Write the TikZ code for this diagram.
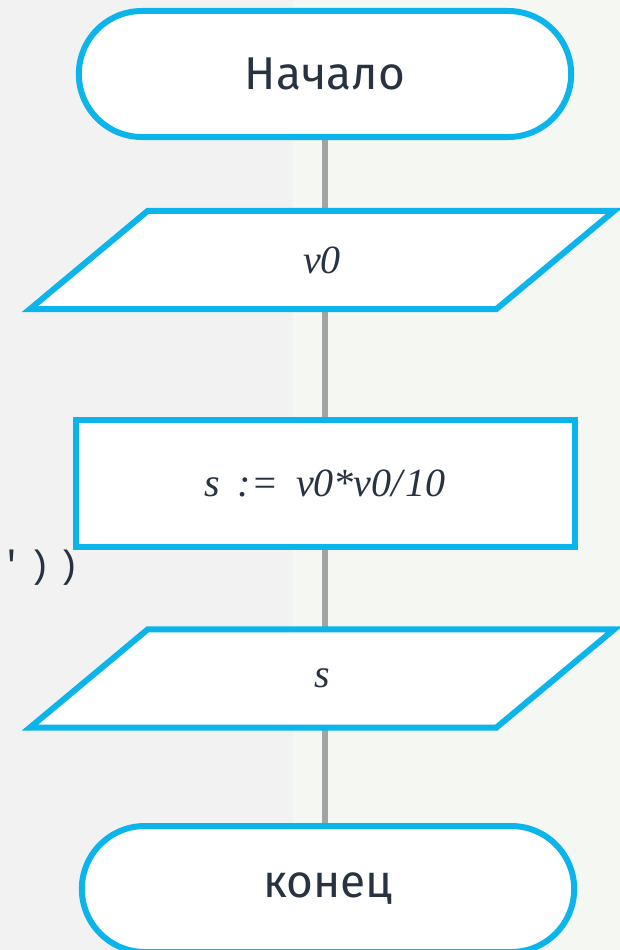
\documentclass[tikz,border=0pt]{standalone}
\usepackage{fontspec}
\usetikzlibrary{shapes.misc,backgrounds}
\newfontfamily\labelfont{Fira Sans}
\newfontfamily\serifit[WordSpace=1.8]{Liberation Serif}
\newfontfamily\codefont[LetterSpace=15]{Liberation Mono}
\definecolor{flowblue}{HTML}{0BB5EB}
\definecolor{linegray}{HTML}{A3A3A3}
\definecolor{textdark}{HTML}{283241}
\definecolor{bgleft}{HTML}{F2F2F2}
\definecolor{bgright}{HTML}{F5F7F3}
\begin{document}
\begin{tikzpicture}[x=1pt, y=-1pt]
    % рамка картинки
    \useasboundingbox (0,0) rectangle (620,950);
    % стили блоков
    \tikzstyle{terminal}=[rounded rectangle, draw=flowblue, line width=6pt, fill=white, minimum width=499pt, minimum height=126pt, text=textdark, font=\labelfont\fontsize{46}{50}\selectfont]
    \tikzstyle{io}=[rectangle, minimum width=466pt, minimum height=98pt, text=textdark, font=\serifit\itshape\fontsize{40}{44}\selectfont]
    \tikzstyle{iobox}=[draw=flowblue, line width=6pt, fill=white, line join=miter]
    \tikzstyle{process}=[rectangle, draw=flowblue, line width=6pt, fill=white, minimum width=499pt, minimum height=127pt, text=textdark, font=\serifit\itshape\fontsize{40}{44}\selectfont]
    \tikzstyle{flow}=[linegray, line width=6pt]

    % блоки схемы
    \node[terminal] (start) at (325,74) {Начало};
    \node[io] (input) at (322,260) {v0};
    \node[process] (calc) at (325,483.5) {s := v0*v0/\kern3pt10};
    \node[io] (output) at (322,678.5) {s};
    \node[terminal] (stop) at (328,889) {конец};

    % обрывок кода слева
    \node[anchor=base west, text=textdark, font=\codefont\fontsize{38}{40}\selectfont, inner sep=0pt] (code) at (0,577) {'))};

    \begin{scope}[on background layer]
        % фон
        \fill[bgleft] (0,0) rectangle (293,950);
        \fill[bgright] (293,0) rectangle (620,950);
        % линии потока
        \draw[flow] (start.south) -- (start.south |- input.north);
        \draw[flow] (start.south |- input.south) -- (start.south |- calc.north);
        \draw[flow] (start.south |- calc.south) -- (start.south |- output.north);
        \draw[flow] (start.south |- output.south) -- (start.south |- stop.north);
        % параллелограммы ввода и вывода
        \foreach \blk in {input, output}
            \draw[iobox] ([xshift=59pt]\blk.north west) -- ([xshift=59pt]\blk.north east)
                -- ([xshift=-59pt]\blk.south east) -- ([xshift=-59pt]\blk.south west) -- cycle;
    \end{scope}
\end{tikzpicture}
\end{document}
